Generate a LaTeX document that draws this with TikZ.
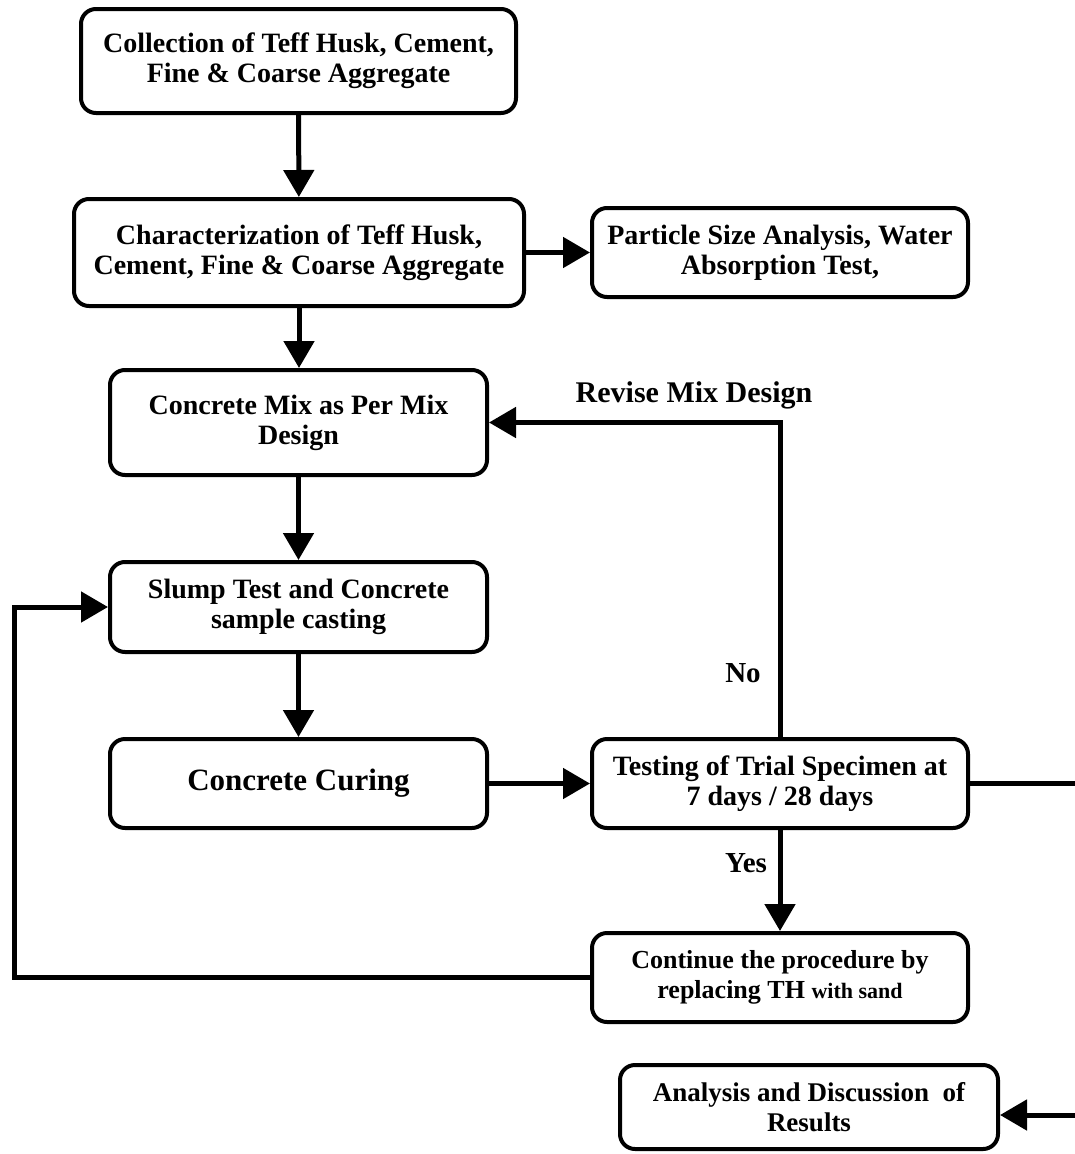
\documentclass[tikz,border=0pt]{standalone}
\usepackage{fontspec}
\setmainfont{Liberation Serif}
\usetikzlibrary{arrows.meta,positioning}
\tikzset{
  procbox/.style={rectangle, rounded corners=15pt, draw, line width=4pt,
                  align=center, inner sep=0pt, minimum width=377pt,
                  minimum height=89pt, font=\fontsize{28}{30}\selectfont\bfseries},
  flow/.style={-{Triangle[length=27pt,width=30pt]}, line width=5pt},
  flowlabel/.style={inner sep=0pt, font=\fontsize{29}{30}\selectfont\bfseries},
}
\begin{document}
\begin{tikzpicture}[x=1pt, y=-1pt]
  \clip (0,0) rectangle (1075,1154);
  % Main column
  \node[procbox, minimum width=435pt, minimum height=104pt] (collect) at (298.5,61)
    {Collection of Teff Husk, Cement,\\ Fine \& Coarse Aggregate};
  \node[procbox, minimum width=450pt, minimum height=107pt] (charact) at (299,252.5)
    {Characterization of Teff Husk,\\ Cement, Fine \& Coarse Aggregate};
  \node[procbox, minimum height=105pt] (mixdesign) at (298.5,422.5)
    {Concrete Mix as Per Mix\\ Design};
  \node[procbox, minimum height=90pt] (slump) at (298.5,607)
    {Slump Test and Concrete\\ sample casting};
  \node[procbox, font=\fontsize{31}{34}\selectfont\bfseries] (curing) at (298.5,783.5)
    {Concrete Curing};
  % Right column
  \node[procbox, minimum width=376pt] (particle) at (780,252.5)
    {Particle Size Analysis, Water\\ Absorption Test,};
  \node[procbox, minimum width=376pt] (testing) at (780,783.5)
    {Testing of Trial Specimen at\\ 7 days / 28 days};
  \node[procbox, minimum width=376pt, font=\fontsize{26}{30}\selectfont\bfseries] (continue) at (780,977.5)
    {Continue the procedure by\\ replacing TH {\fontsize{22}{30}\selectfont with sand}};
  \node[procbox, minimum width=378pt, minimum height=84pt, font=\fontsize{27}{30}\selectfont\bfseries] (results) at (809,1107)
    {Analysis and Discussion~~of\\ Results};
  % Labels
  \node[flowlabel, font=\fontsize{30}{30}\selectfont\bfseries] (revise) at (694,395) {Revise Mix Design};
  \node[flowlabel] (nolabel) at (743,673) {No};
  \node[flowlabel] (yeslabel) at (746,863) {Yes};
  % Turning points
  \coordinate (loopturn) at (14,977.5);
  \coordinate (exitturn) at (1110,783.5);
  % Connectors
  \draw[flow] (collect) -- (charact);
  \draw[flow] (charact) -- (particle);
  \draw[flow] (charact.south) -- (charact.south |- mixdesign.north);
  \draw[flow] (mixdesign) -- (slump);
  \draw[flow] (slump) -- (curing);
  \draw[flow] (curing) -- (testing);
  \draw[flow] (testing.north) |- (mixdesign.east);
  \draw[flow] (testing) -- (continue);
  \draw[flow] (continue.west) -- (loopturn) |- (slump.west);
  \draw[flow] (testing.east) -- (exitturn) |- ([yshift=-8pt]results.east);
\end{tikzpicture}
\end{document}
